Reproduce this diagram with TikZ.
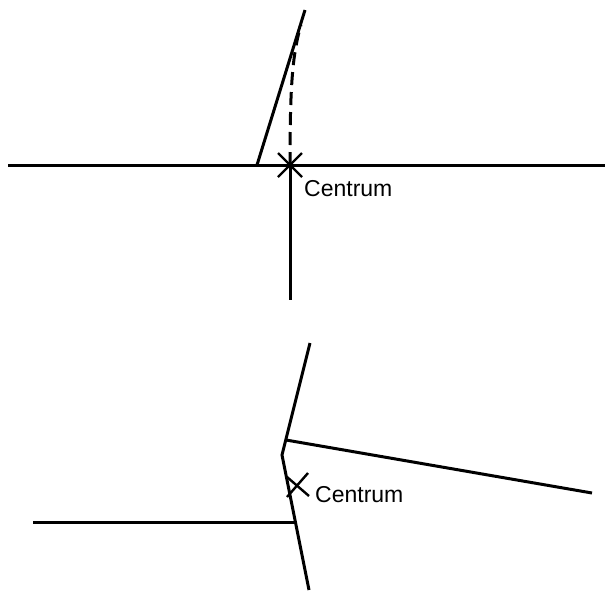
\documentclass[tikz,border=0pt]{standalone}
\usepackage{fontspec}
\setmainfont{Liberation Sans}
\usetikzlibrary{calc}
\tikzset{
  line/.style={line width=3pt},
  kreuz/.style={line width=2.4pt},
  label/.style={anchor=base west, inner sep=0pt, font=\fontsize{23}{27}\selectfont}
}
\begin{document}
\begin{tikzpicture}[x=1pt, y=-1pt]
  \useasboundingbox (0,0) rectangle (605,592);
  % Define points (top)
  \coordinate (L) at (8,165);
  \coordinate (R) at (605,165);
  \coordinate (M) at (290,165);
  \coordinate (D) at (290,300);
  \coordinate (S1) at (257,165);
  \coordinate (S2) at (305,10);
  \coordinate (T) at (301,25);
  \draw[line] (L) -- (R);
  \draw[line] (M) -- (D);
  \draw[line] (S1) -- (S2);
  \draw[line, dashed, dash pattern=on 13pt off 7pt] (M) .. controls (290,90) and (292,55) .. (T);
  % Mark centre
  \draw[kreuz] ($(M)+(-12,-12)$) -- ($(M)+(12,12)$);
  \draw[kreuz] ($(M)+(-12,12)$) -- ($(M)+(12,-12)$);
  \node[label] (c1) at (304,196) {Centrum};
  % Define points (bottom)
  \coordinate (A) at (310,343);
  \coordinate (K) at (282,455);
  \coordinate (B) at (309,590);
  \coordinate (P) at (286,440);
  \coordinate (Q) at (592,493);
  \coordinate (H1) at (33,522);
  \coordinate (H2) at (294,522);
  \coordinate (Z) at (297,485);
  \draw[line] (A) -- (K) -- (B);
  \draw[line] (P) -- (Q);
  \draw[line] (H1) -- (H2);
  % Mark centre
  \draw[kreuz] ($(Z)+(-10,12)$) -- ($(Z)+(11,-12)$);
  \draw[kreuz] ($(Z)+(-10,-8)$) -- ($(Z)+(12,11)$);
  \node[label] (c2) at (315,502) {Centrum};
\end{tikzpicture}
\end{document}
